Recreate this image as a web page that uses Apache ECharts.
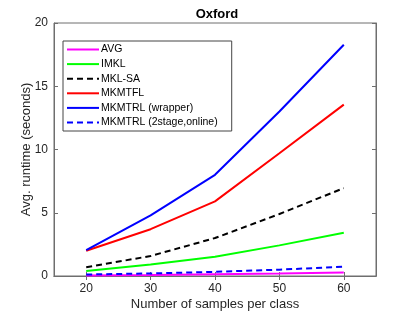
<!DOCTYPE html>
<html><head><meta charset="utf-8">
<script src="https://cdn.jsdelivr.net/npm/echarts@6/dist/echarts.min.js"></script>
<style>html,body{margin:0;padding:0;background:#fff}#c{width:415px;height:312px}</style>
</head><body><div id="c"></div>
<script>
const samples = [20, 30, 40, 50, 60];
const avg = [0.03, 0.08, 0.14, 0.2, 0.27];
const imkl = [0.4, 0.9, 1.52, 2.42, 3.42];
const mklsa = [0.69, 1.58, 3.0, 4.9, 6.95];
const mkmtfl = [2.0, 3.7, 5.9, 9.7, 13.55];
const mkmtrlWrapper = [2.05, 4.8, 8.0, 13.0, 18.28];
const mkmtrl2stage = [0.12, 0.2, 0.33, 0.5, 0.74];
const xTicks = [20, 30, 40, 50, 60];
const yTicks = [0, 5, 10, 15, 20];

const font = 'Liberation Sans';
const axisCol = '#6e6e6e';
const textCol = '#262626';
function mk(name, data, color, dashed) {
  return {
    name, type: 'line', data: samples.map((s, i) => [s, data[i]]),
    symbol: 'none', showSymbol: false, xAxisIndex: 0, yAxisIndex: 0,
    lineStyle: { color, width: 2, type: dashed ? [6, 4] : 'solid' },
    itemStyle: { color }
  };
}
const chart = echarts.init(document.getElementById('c'), null, { renderer: 'canvas' });
chart.setOption({
  animation: false,
  backgroundColor: '#fff',
  textStyle: { fontFamily: font },
  title: { text: 'Oxford', left: 212, top: 3, textAlign: 'center',
    textStyle: { fontFamily: font, fontSize: 13, fontWeight: 'bold', color: '#000' } },
  grid: { left: 54, right: 39, top: 23, bottom: 36, outerBoundsMode: 'none', containLabel: false,
    show: true, borderColor: axisCol, borderWidth: 1, backgroundColor: '#fff' },
  legend: {
    orient: 'vertical', left: 63, top: 41, itemWidth: 32, itemHeight: 10, itemGap: 3.6,
    padding: [3, 14, 3, 3],
    borderColor: '#444', borderWidth: 1, backgroundColor: '#fff',
    itemStyle: { opacity: 0, borderWidth: 0 },
    textStyle: { fontFamily: font, fontSize: 10.5, color: '#000', padding: [0, 0, 0, -3] },
    data: ['AVG', 'IMKL', 'MKL-SA', 'MKMTFL', 'MKMTRL (wrapper)', 'MKMTRL (2stage,online)']
  },
  xAxis: [{
    type: 'value', min: 15, max: 65, interval: 5,
    name: 'Number of samples per class', nameLocation: 'middle', nameGap: 22, nameMoveOverlap: false,
    nameTextStyle: { fontFamily: font, fontSize: 13, color: textCol, verticalAlign: 'top' },
    axisLine: { show: true, lineStyle: { color: axisCol } },
    axisTick: { show: true, inside: true, length: 4, lineStyle: { color: axisCol },
      customValues: xTicks },
    axisLabel: { fontFamily: font, fontSize: 12, color: textCol, margin: 7, customValues: xTicks },
    splitLine: { show: false }
  }, {
    type: 'value', min: 15, max: 65, position: 'top',
    axisLine: { show: true, lineStyle: { color: axisCol } },
    axisTick: { show: true, inside: true, length: 4, lineStyle: { color: axisCol }, customValues: xTicks },
    axisLabel: { show: false }, splitLine: { show: false }
  }],
  yAxis: [{
    type: 'value', min: 0, max: 20, interval: 5,
    name: 'Avg. runtime (seconds)', nameLocation: 'middle', nameGap: 28, nameMoveOverlap: false,
    nameTextStyle: { fontFamily: font, fontSize: 13, color: textCol, verticalAlign: 'middle' },
    axisLine: { show: true, lineStyle: { color: axisCol } },
    axisTick: { show: true, inside: true, length: 4, lineStyle: { color: axisCol } },
    axisLabel: { fontFamily: font, fontSize: 12, color: textCol, margin: 6 },
    splitLine: { show: false }
  }, {
    type: 'value', min: 0, max: 20, interval: 5, position: 'right',
    axisLine: { show: true, lineStyle: { color: axisCol } },
    axisTick: { show: true, inside: true, length: 4, lineStyle: { color: axisCol } },
    axisLabel: { show: false }, splitLine: { show: false }
  }],
  series: [
    mk('AVG', avg, '#ff00ff', false),
    mk('IMKL', imkl, '#00ff00', false),
    mk('MKL-SA', mklsa, '#000000', true),
    mk('MKMTFL', mkmtfl, '#ff0000', false),
    mk('MKMTRL (wrapper)', mkmtrlWrapper, '#0000ff', false),
    mk('MKMTRL (2stage,online)', mkmtrl2stage, '#0000ff', true)
  ]
});
</script></body></html>
